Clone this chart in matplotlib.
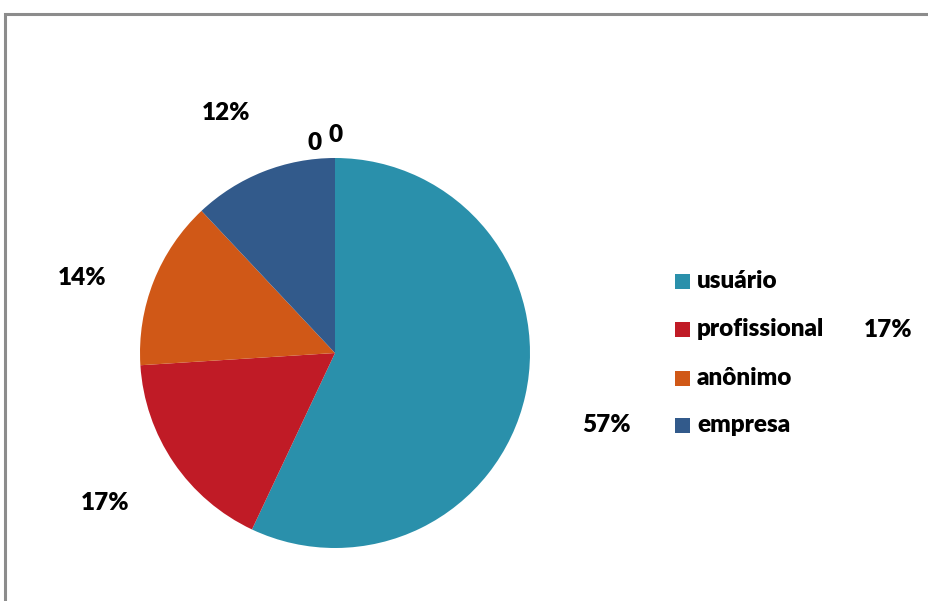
import matplotlib
matplotlib.use("Agg")
import matplotlib.pyplot as plt
from matplotlib.patches import Rectangle

categories = ["usuário", "profissional", "anônimo", "empresa"]
values = [57, 17, 14, 12]
zero_values = [0, 0]
colors = ["#2A90AB", "#C01B26", "#D05817", "#325A8B"]

W, H = 929, 601
fig = plt.figure(figsize=(W / 100, H / 100), dpi=100)
ax = fig.add_axes([0, 0, 1, 1])

# outer chart frame
ax.add_patch(Rectangle((5.5, -20), W + 40, H - 14 + 20, fill=False,
                       edgecolor="#8C8C8C", linewidth=2.2))

cx, cy, r = 335, H - 353, 195
ax.pie(values, colors=colors, startangle=90, counterclock=False,
       center=(cx, cy), radius=r, frame=True,
       wedgeprops=dict(linewidth=0))
ax.set_xlim(0, W)
ax.set_ylim(0, H)
ax.axis("off")

font = dict(family=["Lato", "DejaVu Sans"], fontweight="heavy", fontsize=17.5,
            color="#000000")

# slice value labels
label_pos = [(607, 425), (105, 503), (82, 278), (226, 113)]
for v, (x, y) in zip(values, label_pos):
    ax.text(x, H - y, f"{v}%", ha="center", va="center", **font)
ax.text(888, H - 330, f"{values[1]}%", ha="center", va="center", **font)
for v, (x, y) in zip(zero_values, [(315, 143), (336, 135)]):
    ax.text(x, H - y, f"{v}", ha="center", va="center", **font)

# legend
rows = [281, 329, 378, 425]
for name, c, y in zip(categories, colors, rows):
    ax.add_patch(Rectangle((675, H - y - 7.5), 15, 15, color=c, linewidth=0))
    ax.text(697, H - y, name, ha="left", va="center", **font)

fig.savefig("out.png", dpi=100)
